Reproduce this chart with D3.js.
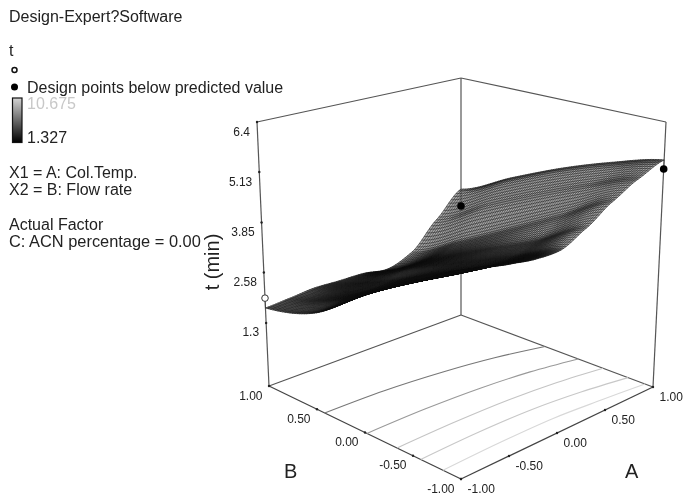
<!DOCTYPE html>
<html><head><meta charset="utf-8">
<script src="https://cdn.jsdelivr.net/npm/d3@7"></script>
<style>html,body{margin:0;padding:0;background:#fff}svg{display:block;filter:blur(0.35px)}text{font-family:"Liberation Sans",Arial,sans-serif;fill:#222}</style>
</head><body><svg id="c" width="683" height="495"></svg>
<script>
// ---------- data ----------
const aGrid = [-1,-0.75,-0.5,-0.25,0,0.25,0.5,0.75,1];
const bGrid = [1,0.5,0,-0.5,-1];
const tAtBp100 = [1.68,1.73,1.79,1.77,1.76,1.67,1.92,2.60,3.26];
const tAtBp050 = [2.06,2.18,2.20,2.25,2.37,2.42,2.66,3.39,3.96];
const tAtB000  = [2.95,2.93,2.88,2.88,2.95,3.08,3.39,4.07,4.58];
const tAtBm050 = [3.70,3.61,3.52,3.46,3.50,3.68,4.10,4.66,5.07];
const tAtBm100 = [4.34,4.24,4.13,4.04,4.05,4.37,4.80,5.16,5.44];
const contourA  = [-1,-0.4,0.15,0.6,1];
const contourB1 = [0.42,0.40,0.338,0.25,0.125];
const contourB2 = [-0.02,-0.024,-0.058,-0.12,-0.22];
const contourB3 = [-0.334,-0.33,-0.35,-0.40,-0.48];
const contourB4 = [-0.58,-0.57,-0.59,-0.65,-0.74];
const contourB5 = [-0.812,-0.80,-0.81,-0.86,-0.916];
const contourCols = ["#777","#999","#c4c4c4","#c8c8c8","#d8d8d8"];
const pointA = [-1,1,1], pointB = [1,1,-1], pointT = [1.93,2.78,5.21], pointOpen = [true,false,false];
const surfaceAtPoint = [1.68,3.26,5.44];
const tTicks = [6.4,5.13,3.85,2.58,1.3];
const tTickLabels = ["6.4","5.13","3.85","2.58","1.3"];
const abTicks = [-1,-0.5,0,0.5,1];
const abTickLabels = ["-1.00","-0.50","0.00","0.50","1.00"];
const legendLines = ["X1 = A: Col.Temp.","X2 = B: Flow rate"];
const tGrid = [tAtBp100,tAtBp050,tAtB000,tAtBm050,tAtBm100];

// ---------- scales & projection ----------
const u = d3.scaleLinear().domain([-1,1]).range([0,1]);
const v = d3.scaleLinear().domain([-1,1]).range([1,0]); // 0 at B=1
const z = d3.scaleLinear().domain([-0.3,6.4]).range([0,1]);
const floorC = {L:[269,386],K:[461,315],F:[461,479],R:[653,387]};
const topC   = {L:[257,122],K:[461,78], F:[461,180],R:[666,122]};
function bil(c,a,b,i){const p=a,s=b;return (1-p)*(1-s)*c.L[i]+p*(1-s)*c.K[i]+(1-p)*s*c.F[i]+p*s*c.R[i];}
function proj(A,B,t){const p=u(A),s=v(B),h=z(t);
  return [0,1].map(i=>bil(floorC,p,s,i)*(1-h)+bil(topC,p,s,i)*h);}
const floorT=-0.3;

function herm(arr,x,k){ // smooth read-through of a row, for drawing the mesh
  const n=arr.length-1,f=Math.min(n-1e-9,Math.max(0,x*n)),i=Math.floor(f),q=f-i;
  const p0=arr[Math.max(0,i-1)],p1=arr[i],p2=arr[i+1],p3=arr[Math.min(n,i+2)];
  const m1=k*(p2-p0)/2,m2=k*(p3-p1)/2,q2=q*q,q3=q2*q;
  return (2*q3-3*q2+1)*p1+(q3-2*q2+q)*m1+(-2*q3+3*q2)*p2+(q3-q2)*m2;
}
function surf(p,s){const col=tGrid.map(r=>herm(r,p,0.75));return herm(col,s,1);}

const svg=d3.select("#c");
const line=d3.line();
const G="#555";

// back walls & floor
function seg(a,b,w,c){svg.append("line").attr("x1",a[0]).attr("y1",a[1]).attr("x2",b[0]).attr("y2",b[1]).attr("stroke",c||G).attr("stroke-width",w||1.2);}
seg(topC.L,topC.K);seg(topC.K,topC.R);
seg(topC.L,floorC.L);seg(topC.K,floorC.K);seg(topC.R,floorC.R);
seg(floorC.L,floorC.K);seg(floorC.K,floorC.R);seg(floorC.L,floorC.F,1.3,"#444");seg(floorC.F,floorC.R,1.3,"#444");

// contours
const smooth=d3.line().curve(d3.curveCatmullRom);
[contourB1,contourB2,contourB3,contourB4,contourB5].forEach((bs,k)=>{
  svg.append("path").attr("fill","none").attr("stroke",contourCols[k]).attr("stroke-width",1.1)
    .attr("d",smooth(contourA.map((a,i)=>proj(a,bs[i],floorT))));
});

// ticks
tTicks.forEach((t,i)=>{const p=proj(-1,1,t);
  svg.append("circle").attr("cx",p[0]).attr("cy",p[1]).attr("r",1.2).attr("fill","#222");
  svg.append("text").attr("x",p[0]-7).attr("y",p[1]+13.5).attr("text-anchor","end").attr("font-size",12).text(tTickLabels[i]);
});
abTicks.forEach((a,i)=>{
  const pa=proj(a,-1,floorT), pb=proj(-1,a,floorT);
  svg.append("circle").attr("cx",pa[0]).attr("cy",pa[1]).attr("r",1.2).attr("fill","#222");
  svg.append("circle").attr("cx",pb[0]).attr("cy",pb[1]).attr("r",1.2).attr("fill","#222");
  svg.append("text").attr("x",pa[0]+6.5).attr("y",pa[1]+13.5).attr("text-anchor","start").attr("font-size",12).text(abTickLabels[i]);
  svg.append("text").attr("x",pb[0]-6.5).attr("y",pb[1]+13.5).attr("text-anchor","end").attr("font-size",12).text(abTickLabels[i]);
});

// surface: cell shade follows how tightly the mesh is packed on screen
const N=80;
const steps=d3.range(N+1).map(i=>i/N);
const sp=(p,s)=>proj(u.invert(p),v.invert(s),surf(p,s));
const pts=steps.map(s=>steps.map(p=>sp(p,s)));
const shade=d3.scaleLinear().domain([0.6,5.5]).range(["#000","#a8a8a8"]).clamp(true);
const cells=svg.append("g");
for(let j=0;j<N;j++)for(let i=0;i<N;i++){
  const c=[pts[j][i],pts[j][i+1],pts[j+1][i+1],pts[j+1][i]];
  const area=Math.abs(d3.polygonArea(c));
  cells.append("path").attr("d",line(c)+"Z").attr("fill",shade(area)).attr("stroke",shade(area)).attr("stroke-width",0.3);
}
const mesh=svg.append("g").attr("fill","none").attr("stroke","#0c0c0c").attr("stroke-width",0.5);
steps.forEach((q,k)=>{
  mesh.append("path").attr("d",line(pts[k]));
  mesh.append("path").attr("d",line(steps.map(s=>sp(q,s))));
});

// design points with drop lines
pointA.forEach((a,i)=>{
  const p=proj(a,pointB[i],pointT[i]), q=proj(a,pointB[i],surfaceAtPoint[i]);
  seg(p,q,0.6,"#333");
  svg.append("circle").attr("cx",p[0]).attr("cy",p[1]).attr("r",pointOpen[i]?3.3:3.8)
    .attr("fill",pointOpen[i]?"#fff":"#000").attr("stroke",pointOpen[i]?"#333":"none").attr("stroke-width",1);
});

// legend
function txt(x,y,s,o){const e=svg.append("text").attr("x",x).attr("y",y).attr("font-size",(o&&o.size)||16).text(s);if(o&&o.fill)e.style("fill",o.fill);return e;}
txt(9,22,"Design-Expert?Software");
txt(9,56,"t");
svg.append("circle").attr("cx",14.5).attr("cy",70).attr("r",2.5).attr("fill","#fff").attr("stroke","#111").attr("stroke-width",1.5);
svg.append("circle").attr("cx",14.5).attr("cy",87).attr("r",3.5).attr("fill","#000");
txt(27,92.5,"Design points below predicted value");
const grad=svg.append("defs").append("linearGradient").attr("id","g").attr("x1",0).attr("x2",0).attr("y1",0).attr("y2",1);
grad.append("stop").attr("offset",0).attr("stop-color","#d4d4d4");
grad.append("stop").attr("offset",1).attr("stop-color","#000");
svg.append("rect").attr("x",12.5).attr("y",98).attr("width",9.5).attr("height",44.5).attr("fill","url(#g)").attr("stroke","#111").attr("stroke-width",1.2);
txt(27,109,"10.675",{fill:"#c8c8c8"});
txt(27,143,"1.327");
legendLines.forEach((s,i)=>txt(9,178+i*17,s));
txt(9,230,"Actual Factor");
txt(9,247,"C: ACN percentage = 0.00",{size:16.4});

// axis titles
svg.append("text").attr("transform","translate(219,262) rotate(-90)").attr("text-anchor","middle").attr("font-size",20).text("t (min)");
txt(284,478,"B",{size:20});
txt(625,478,"A",{size:20});
</script></body></html>
